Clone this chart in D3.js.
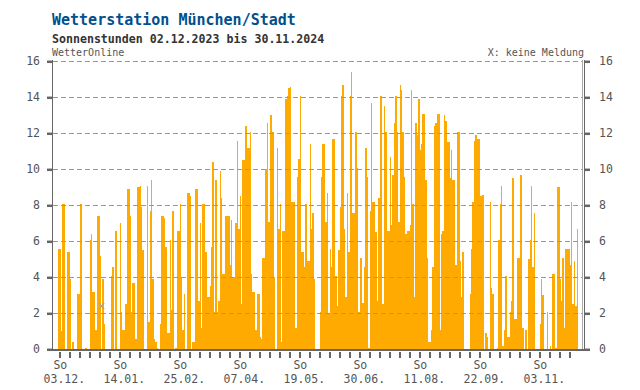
<!DOCTYPE html>
<html><head><meta charset="utf-8">
<script src="https://cdn.jsdelivr.net/npm/d3@7"></script>
<style>
body{margin:0;background:#fff}
svg{display:block}
text{font-family:"DejaVu Sans Mono",monospace}
</style></head><body>
<svg id="c" width="640" height="390"></svg>
<script>
// daily sunshine hours 02.12.2023 .. 30.11.2024 (null = keine Meldung)
const sunshine = [
5.6,5.6,1.0,8.1,8.1,0,5.4,5.4,3.9,0,
0.4,0,0,3.1,3.1,8.1,8.1,0,0,0.1,
0,0,6.1,6.4,3.2,3.2,1.1,7.4,7.4,5.2,
null,3.9,1.4,0,0,0,0,4.1,4.6,0,
6.6,0,0,7.0,2.1,1.1,1.1,2.5,8.9,8.9,
7.4,2.1,3.7,3.7,0.6,9.0,9.0,9.1,7.9,5.5,
0,0,9.1,1.5,7.7,9.4,3.9,0.6,0.4,0.1,
0,1.4,7.4,7.4,7.3,5.7,0.9,0.9,6.1,2.2,
7.7,0,0.1,6.6,6.6,8.1,4.0,1.1,3.1,0,
8.7,8.7,8.5,0,0.4,0.4,8.9,8.9,2.7,7.0,
1.2,8.1,8.1,5.4,2.9,2.9,3.5,5.7,10.4,2.1,
9.4,2.1,2.7,9.9,8.4,4.2,4.2,7.4,7.4,7.4,
4.7,7.2,4.0,4.0,7.0,11.6,6.7,8.5,2.5,10.5,
10.5,12.4,11.2,11.2,12.1,4.2,3.2,3.2,1.1,3.1,
3.1,0.7,0.6,5.1,5.1,10.0,12.6,7.1,13.0,13.0,
12.1,4.0,0,11.2,6.7,8.1,0.4,6.6,6.6,13.9,
14.1,14.5,14.6,8.2,8.2,8.2,1.2,9.6,10.6,14.1,
5.4,5.4,4.6,8.1,4.9,4.9,11.4,6.7,7.6,3.9,
0,0,0,2.1,9.6,11.4,11.4,7.1,8.7,2.0,
5.6,4.6,11.7,11.7,4.1,2.4,5.5,7.9,14.1,14.7,
6.7,2.9,8.7,5.4,14.1,15.4,7.6,7.6,12.1,10.1,
2.1,5.1,5.1,2.6,4.6,11.2,9.6,0.1,7.7,13.7,
8.2,8.2,6.5,2.7,8.4,14.1,14.1,2.5,13.5,12.1,
6.6,6.6,10.7,6.9,9.7,12.6,14.1,12.1,7.1,14.7,
14.4,12.1,9.6,6.4,6.6,6.6,6.9,14.4,8.1,2.9,
12.6,11.9,13.9,11.1,11.4,13.1,13.1,9.4,5.1,0.4,
0.4,1.1,4.6,12.4,12.6,13.1,13.1,1.1,6.4,6.6,
13.0,12.7,11.5,11.5,9.5,11.1,9.4,9.4,4.7,12.1,
12.1,4.9,2.9,5.4,0,0,0,0,3.1,5.6,
8.2,11.6,11.9,11.7,11.7,8.5,8.5,8.6,0,0.9,
0.7,0,8.2,3.4,3.1,0,0,0.1,6.1,8.1,
9.1,0.2,1.1,4.1,0.7,0.7,2.1,2.7,9.5,1.7,
1.7,5.1,5.1,9.7,9.7,1.2,0,1.1,0,5.0,
6.1,9.1,4.6,7.6,0,0,0,1.4,3.9,3.0,
0,0,2.1,0,0.2,0,4.2,4.2,0.1,9.0,
9.0,3.9,2.7,5.1,1.2,5.6,5.6,5.6,4.7,8.2,
2.5,4.9,2.4,6.7,0
];
const yTicks = [0,2,4,6,8,10,12,14,16];
const labelDays = [1,43,85,127,169,211,253,295,337];
const labelWeekdays = ["So","So","So","So","So","So","So","So","So"];
const labelDates = ["03.12.","14.01.","25.02.","07.04.","19.05.","30.06.","11.08.","22.09.","03.11."];
const titleText = "Wetterstation München/Stadt";
const subtitleText = "Sonnenstunden 02.12.2023 bis 30.11.2024";
const sourceText = "WetterOnline";
const noteText = "X: keine Meldung";

const svg = d3.select("#c");
const x = d3.scaleBand().domain(d3.range(sunshine.length)).range([58.2, 579.6]);
const y = d3.scaleLinear().domain([0,16]).range([349.3, 61.3]);
const xc = i => x(i) + x.bandwidth()/2;
const px0 = i => Math.round(x(i));
const px1 = i => Math.round(x(i) + x.bandwidth());
const grey = "#666";

// header
svg.append("text").attr("x",52).attr("y",25).attr("fill","#00508c")
  .attr("font-size",15).attr("font-weight","bold").text(titleText);
svg.append("text").attr("x",52).attr("y",43).attr("fill","#333")
  .attr("font-size",11.6).attr("font-weight","bold").text(subtitleText);
svg.append("text").attr("x",52).attr("y",56).attr("fill","#555")
  .attr("font-size",10).text(sourceText);
svg.append("text").attr("x",584).attr("y",56).attr("fill","#555").attr("text-anchor","end")
  .attr("font-size",10).text(noteText);

// bars
svg.append("g").selectAll("rect")
  .data(sunshine.map((v,i)=>({v,i})).filter(d=>d.v!=null && d.v>0))
  .join("rect")
  .attr("x",d=>px0(d.i)).attr("width",d=>px1(d.i)-px0(d.i))
  .attr("y",d=>Math.round(y(d.v))).attr("height",d=>Math.round(y(0))-Math.round(y(d.v)))
  .attr("fill","#ffaa00").attr("shape-rendering","crispEdges");

// missing marker
const miss = svg.append("g").attr("stroke","#999").attr("stroke-width",1);
sunshine.forEach((v,i)=>{
  if(v==null){
    const cx = xc(i), cy = 306;
    miss.append("line").attr("x1",cx-2.5).attr("x2",cx+2.5).attr("y1",cy-3).attr("y2",cy+3);
    miss.append("line").attr("x1",cx-2.5).attr("x2",cx+2.5).attr("y1",cy+3).attr("y2",cy-3);
  }
});

// grid
svg.append("g").selectAll("line").data(yTicks.filter(v=>v>0)).join("line")
  .attr("x1",53).attr("x2",582).attr("y1",d=>Math.round(y(d))+0.5).attr("y2",d=>Math.round(y(d))+0.5)
  .attr("stroke","#999").attr("stroke-dasharray","5,3");

// frame lines
svg.append("line").attr("x1",52.5).attr("x2",52.5).attr("y1",60).attr("y2",350).attr("stroke",grey);
svg.append("line").attr("x1",582.5).attr("x2",582.5).attr("y1",60).attr("y2",350).attr("stroke","#aaa");
svg.append("line").attr("x1",584.5).attr("x2",584.5).attr("y1",60).attr("y2",351).attr("stroke",grey);
svg.append("line").attr("x1",47).attr("x2",590).attr("y1",350).attr("y2",350).attr("stroke",grey).attr("stroke-width",2);

// y axes
const yl = svg.append("g").attr("transform","translate(52,0)")
  .call(d3.axisLeft(y).tickValues(yTicks).tickSize(5).tickPadding(7));
const yr = svg.append("g").attr("transform","translate(585,0)")
  .call(d3.axisRight(y).tickValues(yTicks).tickSize(5).tickPadding(9));
[yl,yr].forEach(g=>{
  g.select(".domain").remove();
  g.selectAll(".tick line").attr("stroke",grey).attr("stroke-width",2.5);
  g.selectAll(".tick text").attr("fill","#555").attr("font-size",11.5)
    .attr("font-family","DejaVu Sans Mono, monospace");
});

// weekly ticks on x
const sundays = d3.range(1, sunshine.length, 7);
const xa = svg.append("g").attr("transform","translate(0,352)");
xa.selectAll("rect").data(sundays).join("rect")
  .attr("x",d=>Math.round(xc(d))-1).attr("width",2).attr("y",0).attr("height",6).attr("fill",grey);

// x labels
const lab = svg.append("g").attr("fill","#555").attr("font-size",11.5);
labelDays.forEach((d,k)=>{
  lab.append("text").attr("x",xc(d)).attr("y",369).attr("text-anchor","middle").text(labelWeekdays[k]);
  lab.append("text").attr("x",xc(d)+4).attr("y",383).attr("text-anchor","middle").text(labelDates[k]);
});
</script>
</body></html>
